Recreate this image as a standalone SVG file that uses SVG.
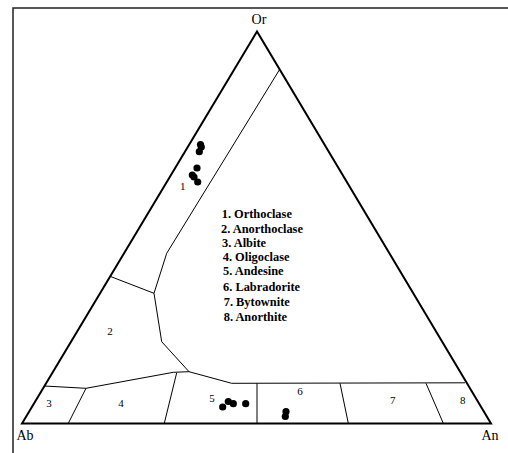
<svg xmlns="http://www.w3.org/2000/svg" width="508" height="453" viewBox="0 0 508 453">
<style>
.thin{fill:none;stroke:#000;stroke-width:1}
.lbl{font-family:"Liberation Serif","Times New Roman",serif;font-size:11px;fill:#000;text-anchor:middle}
.ax{font-family:"Liberation Serif","Times New Roman",serif;font-size:14px;fill:#000;text-anchor:middle}
.leg{font-family:"Liberation Serif","Times New Roman",serif;font-size:12.4px;font-weight:bold;fill:#000}
.dot{fill:#000}
</style>
<rect width="508" height="453" fill="#fff"/>
<polyline points="13,453 13,8 508,8" fill="none" stroke="#222" stroke-width="1.5"/>
<g id="triangle">
<polygon points="257,31.5 22,423.5 491,423.5" fill="none" stroke="#000" stroke-width="2" stroke-linejoin="miter"/>
</g>
<g id="connectors">
<polyline class="thin" points="279.3,70 166.7,253.3 154,293.3 161.7,341.7 189,371.7 231.7,383.3 465,382.8"/>
<line class="thin" x1="111" y1="276.7" x2="154" y2="293.3"/>
<polyline class="thin" points="44.3,386 86,388.3 173.3,372.3 189,371.7"/>
<line class="thin" x1="86" y1="388.3" x2="68.3" y2="423.3"/>
<line class="thin" x1="176.7" y1="372.8" x2="164.3" y2="423.3"/>
<line class="thin" x1="257" y1="383.3" x2="257" y2="423.3"/>
<line class="thin" x1="340" y1="383.3" x2="348.3" y2="423.3"/>
<line class="thin" x1="426" y1="383.3" x2="443.3" y2="423.3"/>
</g>
<g id="vertex-labels">
<text class="ax" x="259" y="23.5">Or</text>
<text class="ax" x="25" y="440">Ab</text>
<text class="ax" x="490" y="440">An</text>
</g>
<g id="field-labels">
<text class="lbl" x="182.7" y="190">1</text>
<text class="lbl" x="110" y="334.5">2</text>
<text class="lbl" x="49" y="407">3</text>
<text class="lbl" x="121" y="407">4</text>
<text class="lbl" x="212" y="402">5</text>
<text class="lbl" x="300" y="394.5">6</text>
<text class="lbl" x="392.7" y="404">7</text>
<text class="lbl" x="462.7" y="404">8</text>
</g>
<g id="legend">
<text class="leg" x="221.7" y="218.3">1. Orthoclase</text>
<text class="leg" x="221" y="233">2. Anorthoclase</text>
<text class="leg" x="222" y="247">3. Albite</text>
<text class="leg" x="222.7" y="261">4. Oligoclase</text>
<text class="leg" x="223" y="275.3">5. Andesine</text>
<text class="leg" x="223" y="291">6. Labradorite</text>
<text class="leg" x="223.7" y="306.3">7. Bytownite</text>
<text class="leg" x="223.7" y="321">8. Anorthite</text>
</g>
<g id="data-points">
<circle class="dot" cx="200.5" cy="144.5" r="3.6"/>
<circle class="dot" cx="201.3" cy="147" r="3.6"/>
<circle class="dot" cx="199.3" cy="151.7" r="3.6"/>
<circle class="dot" cx="197" cy="168" r="3.6"/>
<circle class="dot" cx="192.3" cy="175" r="3.6"/>
<circle class="dot" cx="194" cy="177" r="3.6"/>
<circle class="dot" cx="197.7" cy="182" r="3.6"/>
<circle class="dot" cx="222.7" cy="407" r="3.6"/>
<circle class="dot" cx="228.3" cy="401.5" r="3.6"/>
<circle class="dot" cx="233.3" cy="403.7" r="3.6"/>
<circle class="dot" cx="245.7" cy="403.7" r="3.6"/>
<circle class="dot" cx="286" cy="411.7" r="3.6"/>
<circle class="dot" cx="285.3" cy="416.5" r="3.6"/>
</g>
</svg>
